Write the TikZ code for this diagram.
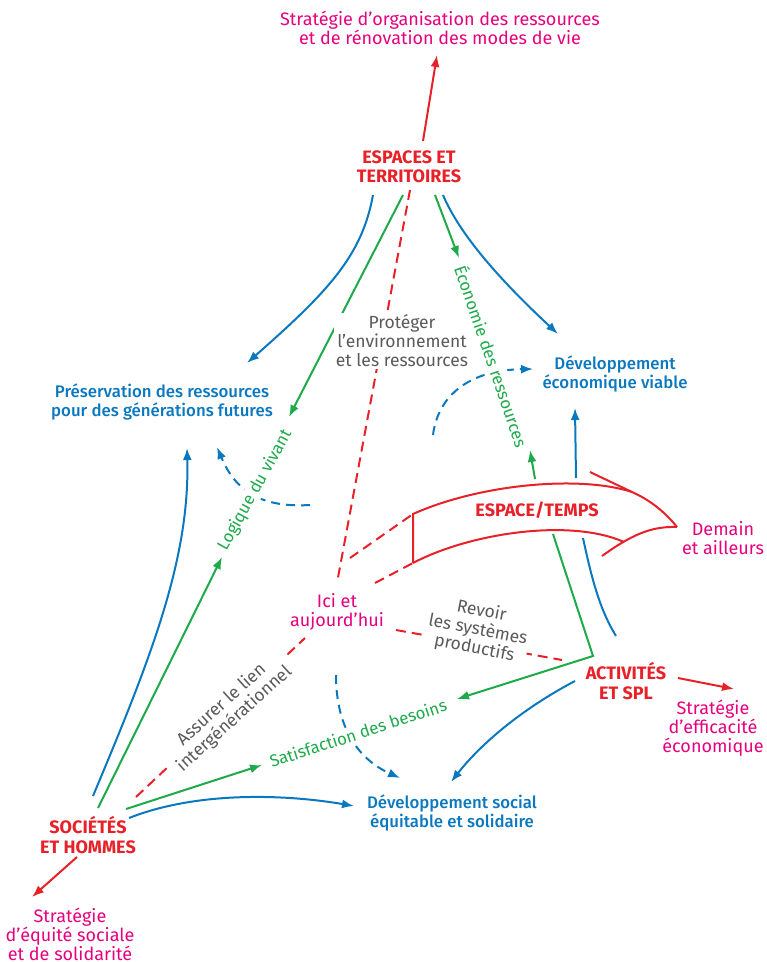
\documentclass[tikz,border=0pt]{standalone}
\usepackage{fontspec}
\setmainfont{Fira Sans}
\newfontfamily\medfont{Fira Sans Medium}
\usetikzlibrary{arrows.meta}
\definecolor{cred}{HTML}{E82028}
\definecolor{cmag}{HTML}{E6007E}
\definecolor{cblue}{HTML}{0A78BE}
\definecolor{cgreen}{HTML}{1EAA4B}
\definecolor{cgrey}{HTML}{5A5A5A}
\pgfdeclarelayer{bg}
\pgfsetlayers{bg,main}
\begin{document}
\begin{tikzpicture}[x=1pt,y=-1pt,
  redlab/.style={font=\bfseries\fontsize{18}{19.5}\selectfont, text=cred, align=center, inner sep=1pt},
  maglab/.style={font=\fontsize{18}{19}\selectfont, text=cmag, align=center, inner sep=1pt},
  bluelab/.style={font=\medfont\fontsize{16.8}{19}\selectfont, text=cblue, align=center, inner sep=1pt},
  greylab/.style={font=\fontsize{17.5}{19}\selectfont, text=cgrey, align=center, inner sep=2pt, fill=white},
  greenlab/.style={font=\fontsize{16.8}{19}\selectfont, text=cgreen, inner sep=2pt, fill=white},
  arr/.style={-{Latex[length=12pt,width=9pt]}},
  rdash/.style={cred, dash pattern=on 10pt off 6pt},
  bdash/.style={cblue, dash pattern=on 9pt off 6pt},
]
\useasboundingbox (0,0) rectangle (767,962);

% ---------- nodes ----------
\node[maglab] (strat1) at (440,28) {Stratégie d’organisation des ressources\\et de rénovation des modes de vie};
\node[redlab] (esp) at (409,167) {ESPACES ET\\TERRITOIRES};
\node[bluelab] (pres) at (162,402) {Préservation des ressources\\pour des générations futures};
\node[bluelab] (deco) at (615,374) {Développement\\économique viable};
\node[greylab] (prot) at (402,341) {Protéger\\l’environnement\\et les ressources};
\node[redlab] (et) at (537,510) {ESPACE/TEMPS};
\node[maglab] (dem) at (723,538) {Demain\\et ailleurs};
\node[maglab] (ici) at (337,612) {Ici et\\aujourd’hui};
\node[greylab, rotate=-11] (rev) at (478,630) {Revoir\\les systèmes\\productifs};
\node[redlab] (act) at (626,681) {ACTIVITÉS\\ET SPL};
\node[maglab] (stef) at (713,728) {Stratégie\\d’efficacité\\économique};
\node[greylab, rotate=42, inner xsep=8pt] (ass) at (228,712) {Assurer le lien\\intergénérationnel};
\node[greenlab, rotate=18] (sat) at (358,733) {Satisfaction des besoins};
\node[bluelab] (dsoc) at (452,813) {Développement social\\équitable et solidaire};
\node[redlab] (soc) at (88,835) {SOCIÉTÉS\\ET HOMMES};
\node[maglab] (stso) at (70,934) {Stratégie\\d’équité sociale\\et de solidarité};
\node[greenlab, rotate=61, inner sep=1pt] (log) at (255,490) {Logique du vivant};
\node[greenlab, rotate=-71] (eco) at (492,356) {Économie des ressources};

% ---------- connector end points ----------
\coordinate (espN) at (423,141);
\coordinate (stratS) at (437,55);
\coordinate (espB1) at (373,195);
\coordinate (espG1) at (403,195);
\coordinate (espR) at (410,190);
\coordinate (espG2) at (435,195);
\coordinate (espB2) at (443,195);
\coordinate (presB) at (247,363);
\coordinate (logT) at (289,417);
\coordinate (ecoT) at (459,258);
\coordinate (decoL) at (558,334);
\coordinate (iciN) at (337,583);
\coordinate (dashA) at (433,435);
\coordinate (decoW) at (533,369);
\coordinate (ecoB) at (530,450);
\coordinate (banG) at (535,479);
\coordinate (banB) at (576,478);
\coordinate (decoS) at (575,408);
\coordinate (banB2) at (583,538);
\coordinate (actB) at (616,636);
\coordinate (banG2) at (553,534);
\coordinate (actG) at (593,656);
\coordinate (satE) at (457,699);
\coordinate (iciE) at (396,630);
\coordinate (actW) at (562,660);
\coordinate (actB2) at (575,681);
\coordinate (dsocN) at (451,782);
\coordinate (actE) at (678,678);
\coordinate (stefN) at (734,689);
\coordinate (banTL) at (413,514);
\coordinate (banBL) at (413,563);
\coordinate (tip) at (677,527);
\coordinate (iciR1) at (350,558);
\coordinate (iciR2) at (375,583);
\coordinate (socR) at (136,797);
\coordinate (iciSW) at (305,638);
\coordinate (iciS) at (336,675);
\coordinate (dsocW) at (400,778);
\coordinate (socG) at (126,809);
\coordinate (satW) at (262,765);
\coordinate (socB) at (129,818);
\coordinate (dsocW2) at (354,806);
\coordinate (socG2) at (98,808);
\coordinate (logB) at (222,557);
\coordinate (socB2) at (93,796);
\coordinate (presS) at (187,448);
\coordinate (socS) at (77,857);
\coordinate (stsoN) at (32,897);
\coordinate (dashP) at (310,505);
\coordinate (presS2) at (217,447);

% ---------- connectors ----------
\begin{pgfonlayer}{bg}
\begin{scope}[line width=2pt]
\draw[cred,arr] (espN) -- (stratS);
\draw[cblue,arr] (espB1) .. controls (362,255) and (330,290) .. (presB);
\draw[cgreen,arr] (espG1) -- (logT);
\draw[rdash] (espR) -- (iciN);
\draw[cgreen,arr] (espG2) -- (ecoT);
\draw[cblue,arr] (espB2) .. controls (460,235) and (500,280) .. (decoL);
\draw[bdash,arr] (dashA) .. controls (438,395) and (470,370) .. (decoW);
\draw[cgreen,arr] (banG) -- (ecoB);
\draw[cblue,arr] (banB) -- (decoS);
\draw[cblue] (banB2) .. controls (592,580) and (600,610) .. (actB);
\draw[cgreen,arr,line join=miter] (banG2) -- (actG) -- (satE);
\draw[rdash] (iciE) -- (actW);
\draw[cblue,arr] (actB2) .. controls (520,710) and (480,745) .. (dsocN);
\draw[cred,arr] (actE) -- (stefN);
% banner
\draw[cred,line join=miter] (banBL) -- (banTL) .. controls (480,484) and (580,475) .. (632,492)
   .. controls (650,500) and (665,512) .. (tip);
\draw[cred] (590,472) -- (632,492);
\draw[cred] (tip) .. controls (650,526) and (630,536) .. (602,556);
\draw[cred] (banBL) .. controls (470,533) and (570,518) .. (624,542);
\draw[rdash] (iciR1) -- (banTL);
\draw[rdash] (iciR2) -- (banBL);
% societes
\draw[rdash] (socR) -- (iciSW);
\draw[bdash,arr] (iciS) .. controls (336,730) and (360,760) .. (dsocW);
\draw[cgreen,arr] (socG) -- (satW);
\draw[cblue,arr] (socB) .. controls (200,790) and (290,795) .. (dsocW2);
\draw[cgreen,arr] (socG2) -- (logB);
\draw[cblue,arr] (socB2) .. controls (150,660) and (190,560) .. (presS);
\draw[cred,arr] (socS) -- (stsoN);
\draw[bdash,arr] (dashP) .. controls (260,508) and (235,490) .. (presS2);
\end{scope}
\end{pgfonlayer}
\end{tikzpicture}
\end{document}
